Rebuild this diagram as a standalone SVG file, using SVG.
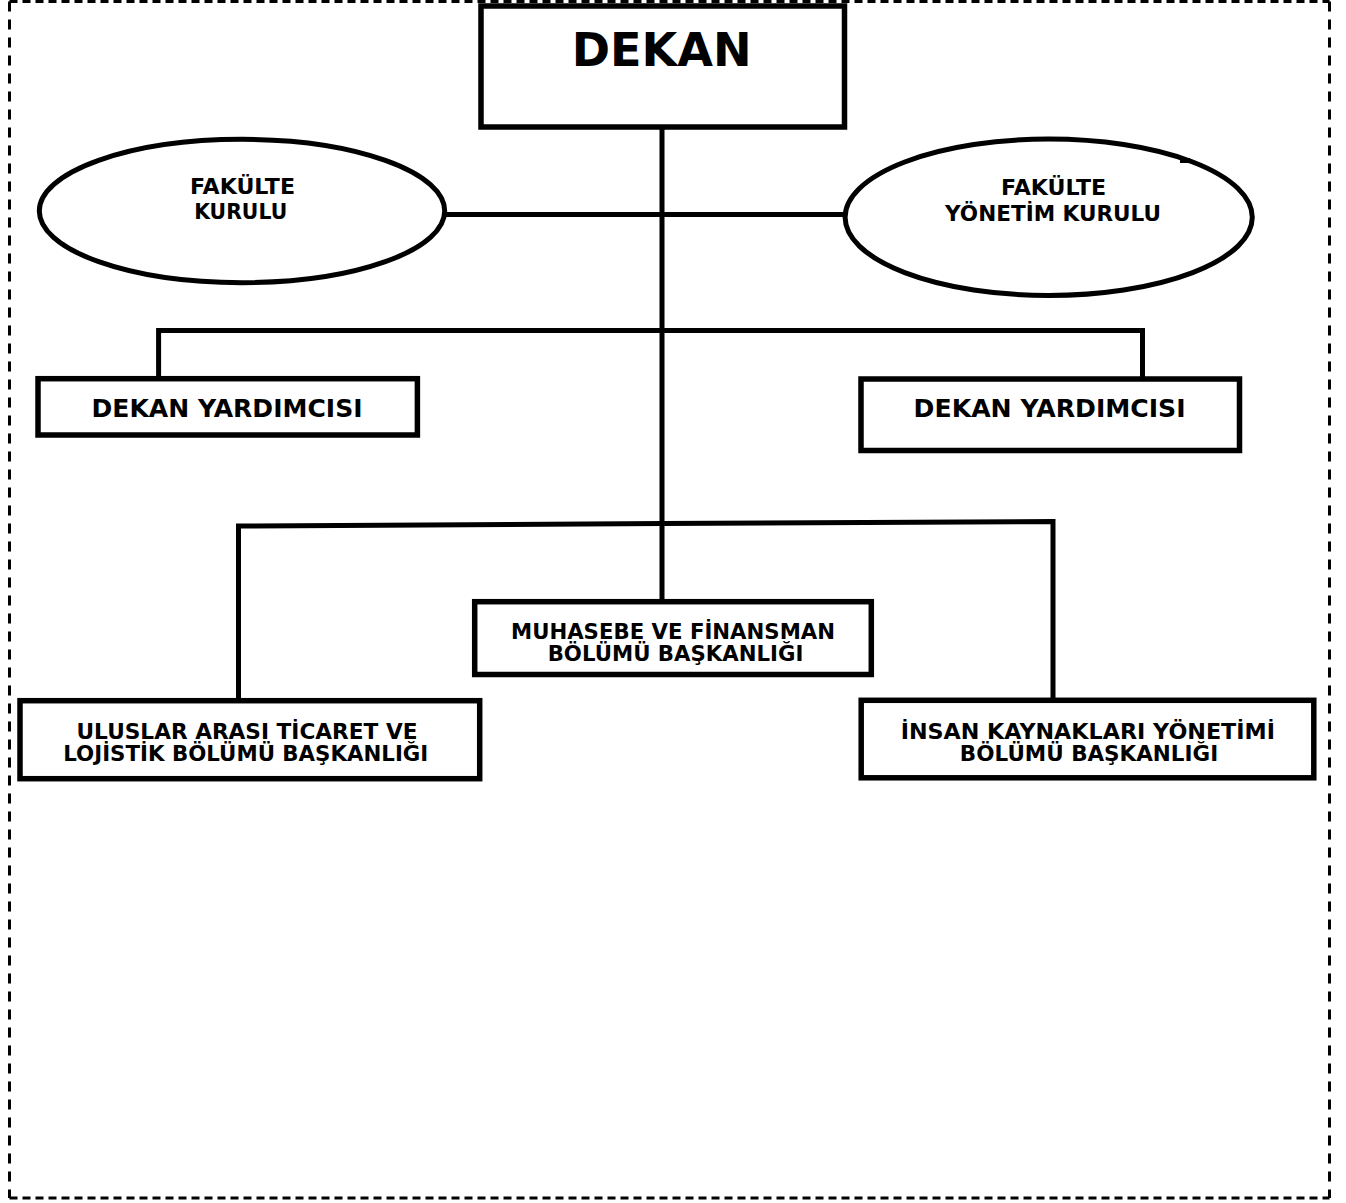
<svg xmlns="http://www.w3.org/2000/svg" width="1346" height="1203" viewBox="0 0 1346 1203">
<style>
.bx{fill:#fff;stroke:#000;stroke-width:5.5;stroke-linejoin:miter}
.el{fill:#fff;stroke:#000;stroke-width:5}
.cn{fill:none;stroke:#000;stroke-width:5;stroke-linejoin:miter;stroke-linecap:butt}
.bd{fill:none;stroke:#000;stroke-width:3}
text{font-family:"DejaVu Sans","Verdana",sans-serif;font-weight:bold;fill:#000;text-anchor:middle}
.t1{font-size:46.5px}
.t2{font-size:21px}
.t3{font-size:24px}
.t4{font-size:20.5px}
</style>
<rect width="1346" height="1203" fill="#fff"/>
<g id="border">
<line class="bd" x1="9.5" y1="1.5" x2="1329.5" y2="1.5" stroke-dasharray="8 5"/>
<line class="bd" x1="9.5" y1="1198" x2="1329.5" y2="1198" stroke-dasharray="8 5"/>
<line class="bd" x1="9.5" y1="1.5" x2="9.5" y2="1198" stroke-dasharray="10 8"/>
<line class="bd" x1="1329.5" y1="1.5" x2="1329.5" y2="1198" stroke-dasharray="10 8"/>
</g>
<g id="connectors">
<path class="cn" d="M662 127 V601"/>
<path class="cn" d="M444 214.5 H845"/>
<path class="cn" d="M158.6 378 V330.5 H1142.5 V378"/>
<path class="cn" d="M238.5 700 V526 L662 523.5 L1053 521.5 V700"/>
</g>
<g id="dekan">
<rect class="bx" x="481" y="6" width="363.5" height="121"/>
<text class="t1" x="661.7" y="65.7" textLength="180" lengthAdjust="spacingAndGlyphs">DEKAN</text>
</g>
<g id="fakulte-kurulu">
<ellipse class="el" cx="242" cy="211" rx="202.7" ry="71.7"/>
<text class="t2" x="242.5" y="194" textLength="105" lengthAdjust="spacingAndGlyphs">FAKÜLTE</text>
<text class="t2" x="240.7" y="219.3" textLength="93" lengthAdjust="spacingAndGlyphs">KURULU</text>
</g>
<g id="fakulte-yonetim-kurulu">
<ellipse class="el" cx="1048.7" cy="217.3" rx="203.6" ry="78.2"/>
<path class="cn" d="M1180 160.5 H1190"/>
<text class="t2" x="1053.6" y="194.5" textLength="105" lengthAdjust="spacingAndGlyphs">FAKÜLTE</text>
<text class="t2" x="1053" y="220.7" textLength="216" lengthAdjust="spacingAndGlyphs">YÖNETİM KURULU</text>
</g>
<g id="dekan-yardimcisi-1">
<rect class="bx" x="38" y="378.7" width="379.4" height="56.3"/>
<text class="t3" x="227" y="416.7" textLength="271" lengthAdjust="spacingAndGlyphs">DEKAN YARDIMCISI</text>
</g>
<g id="dekan-yardimcisi-2">
<rect class="bx" x="861" y="379" width="378.5" height="71.5"/>
<text class="t3" x="1049.6" y="416.7" textLength="272" lengthAdjust="spacingAndGlyphs">DEKAN YARDIMCISI</text>
</g>
<g id="muhasebe">
<rect class="bx" x="474.7" y="601.7" width="396.6" height="72.8"/>
<text class="t4" x="673" y="638.8" textLength="324" lengthAdjust="spacingAndGlyphs">MUHASEBE VE FİNANSMAN</text>
<text class="t4" x="675.5" y="661.3" textLength="255.7" lengthAdjust="spacingAndGlyphs">BÖLÜMÜ BAŞKANLIĞI</text>
</g>
<g id="uluslararasi">
<rect class="bx" x="20" y="700.7" width="459.7" height="78"/>
<text class="t4" x="247" y="738.8" textLength="341" lengthAdjust="spacingAndGlyphs">ULUSLAR ARASI TİCARET VE</text>
<text class="t4" x="245.8" y="761.3" textLength="365" lengthAdjust="spacingAndGlyphs">LOJİSTİK BÖLÜMÜ BAŞKANLIĞI</text>
</g>
<g id="insan-kaynaklari">
<rect class="bx" x="861.2" y="700.3" width="452.6" height="77.5"/>
<text class="t4" x="1087.8" y="738.8" textLength="374.3" lengthAdjust="spacingAndGlyphs">İNSAN KAYNAKLARI YÖNETİMİ</text>
<text class="t4" x="1089" y="761.3" textLength="258.3" lengthAdjust="spacingAndGlyphs">BÖLÜMÜ BAŞKANLIĞI</text>
</g>
</svg>
